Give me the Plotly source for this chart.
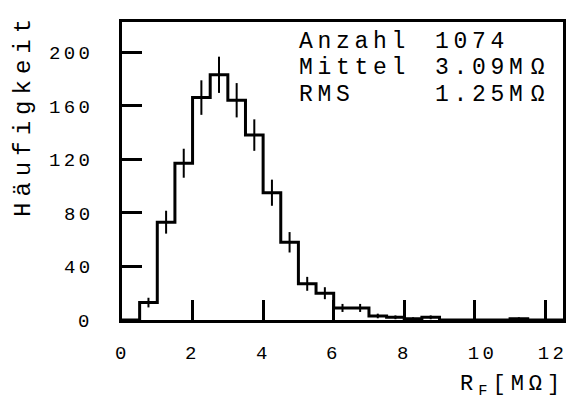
import math
import plotly.graph_objects as go

# ---- data ----
bin_left = [0.0, 0.5, 1.0, 1.5, 2.0, 2.5, 3.0, 3.5, 4.0, 4.5, 5.0, 5.5, 6.0,
            6.5, 7.0, 7.5, 8.0, 8.5, 9.0, 9.5, 10.0, 10.5, 11.0, 11.5, 12.0]
counts = [0, 13, 73, 117, 166, 183, 164, 138, 95, 58, 27, 20, 9,
          9, 3, 2, 1, 2, 0, 0, 0, 0, 1, 0, 0]
bin_width = 0.5
x_tick_vals = [0, 2, 4, 6, 8, 10, 12]
x_tick_text = ["0", "2", "4", "6", "8", "\u00a010", "\u00a012"]
y_tick_vals = [0, 40, 80, 120, 160, 200]
y_tick_text = ["0", "40", "80", "120", "160", "200"]
stat_labels = ["Anzahl", "Mittel", "RMS"]
stat_numbers = ["1074", "3.09", "1.25"]
stat_units = ["", "MΩ", "MΩ"]

FONT = "Liberation Mono"


def spaced(s, sp):
    return f'<span style="letter-spacing:{sp}px">{s}</span>'


step_x = bin_left + [bin_left[-1] + bin_width]
step_y = counts + [counts[-1]]

err_x = [b + bin_width / 2 for b, c in zip(bin_left, counts) if c > 0]
err_y = [c for c in counts if c > 0]
err_e = [math.sqrt(c) for c in err_y]

fig = go.Figure()
fig.add_trace(go.Scatter(
    x=step_x, y=step_y, mode="lines", line_shape="hv",
    line=dict(color="black", width=3), hoverinfo="skip", showlegend=False))
fig.add_trace(go.Scatter(
    x=err_x, y=err_y, mode="markers", marker=dict(size=1, color="rgba(0,0,0,0)"),
    error_y=dict(type="data", array=err_e, visible=True, color="black",
                 thickness=2, width=0),
    hoverinfo="skip", showlegend=False))

ann = []
rows_y = [0.933, 0.845, 0.754]
for lab, num, unit, yy in zip(stat_labels, stat_numbers, stat_units, rows_y):
    ann.append(dict(x=0.396, y=yy, xref="paper", yref="paper", text=spaced(lab, 4.7),
                    showarrow=False, xanchor="left", yanchor="middle",
                    font=dict(family=FONT, size=23, color="black")))
    txt = spaced(num, 4.7) + (spaced(unit, 8) if unit else "")
    ann.append(dict(x=0.705, y=yy, xref="paper", yref="paper", text=txt,
                    showarrow=False, xanchor="left", yanchor="middle",
                    font=dict(family=FONT, size=23, color="black")))

# tick labels placed through the axes' own scales
for v, t in zip(y_tick_vals, y_tick_text):
    ann.append(dict(x=-0.0608, y=v, xref="paper", yref="y", text=spaced(t, 3.3),
                    showarrow=False, xanchor="right", yanchor="middle", yshift=-2,
                    font=dict(family=FONT, size=19, color="black")))
for v, t in zip(x_tick_vals, x_tick_text):
    ann.append(dict(x=v, y=-0.115, xref="x", yref="paper", text=spaced(t, 3.3),
                    showarrow=False, xanchor="center", yanchor="middle",
                    font=dict(family=FONT, size=19, color="black")))

ann.append(dict(x=-0.223, y=0.687, xref="paper", yref="paper",
                text=spaced("Häufigkeit", 6), textangle=-90, showarrow=False,
                xanchor="center", yanchor="middle",
                font=dict(family=FONT, size=24, color="black")))
ann.append(dict(x=1.008, y=-0.222, xref="paper", yref="paper",
                text=spaced("R<sub>F</sub>[MΩ]", 5), showarrow=False,
                xanchor="right", yanchor="middle",
                font=dict(family=FONT, size=22, color="black")))

fig.update_layout(
    width=569, height=401,
    margin=dict(l=122, r=3, t=22, b=81),
    paper_bgcolor="white", plot_bgcolor="white",
    annotations=ann,
    font=dict(family=FONT, size=19, color="black"),
)
fig.update_xaxes(
    range=[0, 12.5], showgrid=False, zeroline=False,
    showline=True, mirror=True, linecolor="black", linewidth=3,
    ticks="inside", ticklen=20, tickwidth=3, tickcolor="black",
    tickvals=x_tick_vals, showticklabels=False,
)
fig.update_yaxes(
    range=[0, 222.4], showgrid=False, zeroline=False,
    showline=True, mirror=True, linecolor="black", linewidth=3,
    ticks="inside", ticklen=20, tickwidth=3, tickcolor="black",
    tickvals=y_tick_vals, showticklabels=False,
)

fig.write_html(
    "out.html",
    config={"displayModeBar": False},
    post_script="document.body.style.margin='0';document.body.style.overflow='hidden';",
)
